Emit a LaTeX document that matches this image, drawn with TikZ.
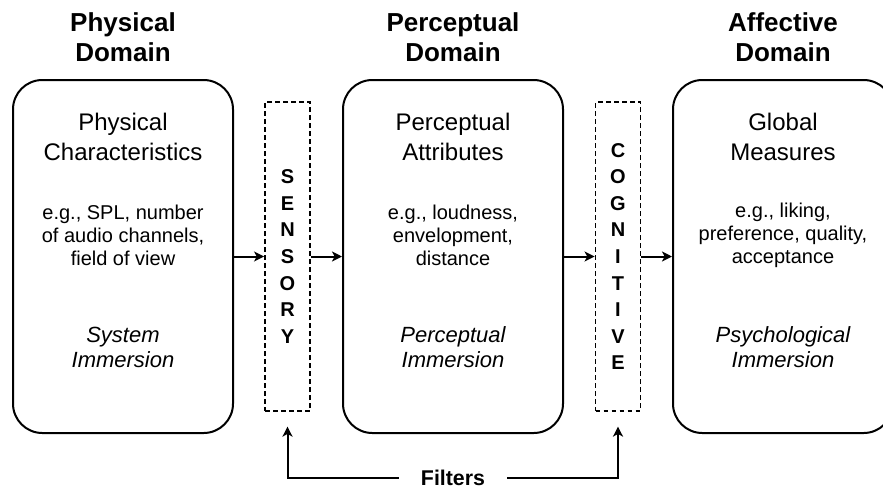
\documentclass[tikz,border=0pt]{standalone}
\usepackage{fontspec}
\setmainfont{Liberation Sans}
\usetikzlibrary{arrows.meta,positioning,calc}

\begin{document}
\begin{tikzpicture}[
  x=0.75pt, y=-0.75pt,
  dombox/.style={draw, line width=1.5pt, rounded corners=22pt, minimum width=165pt, minimum height=264.75pt, inner sep=0pt},
  filterbox/.style={draw, line width=1.4pt, dash pattern=on 3.6pt off 2.4pt, minimum width=33.75pt, minimum height=231.75pt, inner sep=0pt, align=center, font=\fontsize{15}{19.9}\selectfont\bfseries},
  domhead/.style={align=center, font=\fontsize{19.5}{22.5}\selectfont\bfseries},
  domtitle/.style={align=center, font=\fontsize{18}{22.5}\selectfont},
  examples/.style={align=center, font=\fontsize{15}{17.25}\selectfont},
  immers/.style={align=center, font=\fontsize{16.5}{18.75}\selectfont\itshape},
  edge/.style={-{Stealth[length=7.5pt,width=7.5pt,inset=2pt]}, line width=1.5pt}
]
\useasboundingbox (0,0) rectangle (883,490);
\clip (0,0) rectangle (883,490);

\node[domhead] (hphys) at (123,37) {Physical\\Domain};
\node[domhead] (hperc) at (453,37) {Perceptual\\Domain};
\node[domhead] (haffe) at (783,37) {Affective\\Domain};

\node[dombox] (phys) at (123,256.5) {};
\node[dombox] (perc) at (453,256.5) {};
\node[dombox] (affe) at (783,256.5) {};

\node[filterbox] (sens) at (287.5,256.5) {S\\E\\N\\S\\O\\R\\Y};
\node[filterbox] (cogn) at (618,256.5) {C\\O\\G\\N\\I\\T\\I\\V\\E};

\node[domtitle] (tphys) at (123,137) {Physical\\Characteristics};
\node[examples] (ephys) at (123,235) {e.g., SPL, number\\of audio channels,\\field of view};
\node[immers] (lphys) at (123,347) {System\\Immersion};

\node[domtitle] (tperc) at (453,137) {Perceptual\\Attributes};
\node[examples] (eperc) at (453,235) {e.g., loudness,\\envelopment,\\distance};
\node[immers] (lperc) at (453,347) {Perceptual\\Immersion};

\node[domtitle] (taffe) at (783,137) {Global\\Measures};
\node[examples] (eaffe) at (783,235) {e.g., liking,\\preference, quality,\\acceptance};
\node[immers] (laffe) at (783,347) {Psychological\\Immersion};

\draw[edge] (phys.east) -- (sens.west);
\draw[edge] (sens.east) -- (perc.west);
\draw[edge] (perc.east) -- (cogn.west);
\draw[edge] (cogn.east) -- (affe.west);

\node[font=\fontsize{16}{18}\selectfont\bfseries, inner xsep=16.5pt] (filt) at (453,478) {Filters};
\draw[edge, shorten >=11pt] (filt.west) -| (sens.south);
\draw[edge, shorten >=11pt] (filt.east) -| (cogn.south);
\end{tikzpicture}
\end{document}
